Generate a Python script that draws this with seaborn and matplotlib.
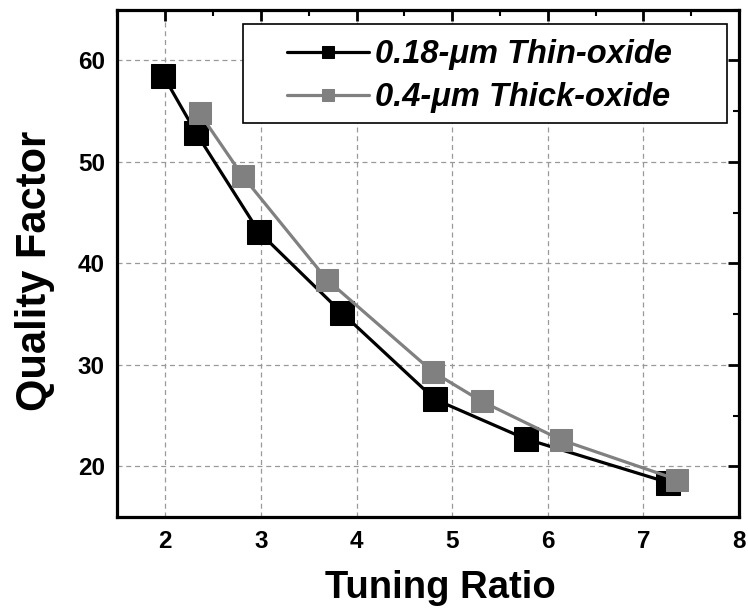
import matplotlib
matplotlib.use("Agg")
import matplotlib.pyplot as plt
import seaborn as sns
import pandas as pd
from matplotlib.ticker import MultipleLocator
from matplotlib.patches import Rectangle

thin_x = [1.98, 2.32, 2.98, 3.85, 4.82, 5.77, 7.26]
thin_q = [58.5, 52.9, 43.1, 35.1, 26.6, 22.7, 18.4]
thick_x = [2.36, 2.81, 3.69, 4.80, 5.31, 6.14, 7.35]
thick_q = [54.8, 48.6, 38.4, 29.3, 26.4, 22.6, 18.7]
labels = ["0.18-\u03bcm Thin-oxide", "0.4-\u03bcm Thick-oxide"]
colors = ["#000000", "#808080"]

sns.set_style("white")
plt.rcParams["font.family"] = ["Liberation Sans", "DejaVu Sans"]
plt.rcParams["text.color"] = "black"
plt.rcParams["axes.labelcolor"] = "black"
plt.rcParams["xtick.color"] = "black"
plt.rcParams["ytick.color"] = "black"

fig = plt.figure(figsize=(7.48, 6.09), dpi=100)
ax = fig.add_axes([0.157, 0.151, 0.831, 0.833])

df_thin = pd.DataFrame({"x": thin_x, "q": thin_q})
df_thick = pd.DataFrame({"x": thick_x, "q": thick_q})

sns.lineplot(data=df_thin, x="x", y="q", ax=ax, color=colors[0], lw=2.3,
             marker="s", markersize=17, markeredgecolor=colors[0], label=labels[0], zorder=3)
sns.lineplot(data=df_thick, x="x", y="q", ax=ax, color=colors[1], lw=2.3,
             marker="s", markersize=16, markeredgecolor=colors[1], label=labels[1], zorder=4)

ax.set_xlim(1.5, 8)
ax.set_ylim(15, 65)
ax.xaxis.set_minor_locator(MultipleLocator(0.5))
ax.yaxis.set_minor_locator(MultipleLocator(5))
ax.set_xticks([2, 3, 4, 5, 6, 7, 8])
ax.set_yticks([20, 30, 40, 50, 60])

ax.grid(True, which="major", linestyle=(0, (4, 3)), color="#999999", lw=0.9)
ax.tick_params(which="major", direction="in", length=8, width=2, top=True, right=True,
               labeltop=False, labelright=False, labelsize=17.5, pad=9)
ax.tick_params(which="minor", direction="in", length=4, width=1.5, top=True, right=True)
for lab in ax.get_xticklabels() + ax.get_yticklabels():
    lab.set_fontweight("bold")
for s in ax.spines.values():
    s.set_linewidth(2.3)
    s.set_color("black")

ax.set_xlabel("Tuning Ratio", fontsize=27.5, fontweight="bold")
ax.set_ylabel("Quality Factor", fontsize=30, fontweight="bold")
ax.xaxis.set_label_coords(0.52, -0.105)
ax.yaxis.set_label_coords(-0.1, 0.485)

# legend frame (box wider than its contents, as in the reference)
frame = Rectangle((0.2026, 0.777), 0.7784, 0.195, transform=ax.transAxes,
                  facecolor="white", edgecolor="black", lw=1.2, zorder=9)
ax.add_patch(frame)
leg = ax.legend(loc="center left", bbox_to_anchor=(0.273, 0.869), frameon=False,
                handlelength=2.5, markerscale=0.55, borderpad=0, borderaxespad=0,
                labelspacing=0.36, handletextpad=0.2,
                prop={"family": "Liberation Sans", "weight": "bold", "style": "italic", "size": 23.5})
leg.set_zorder(10)

fig.savefig("out.png", dpi=100)
